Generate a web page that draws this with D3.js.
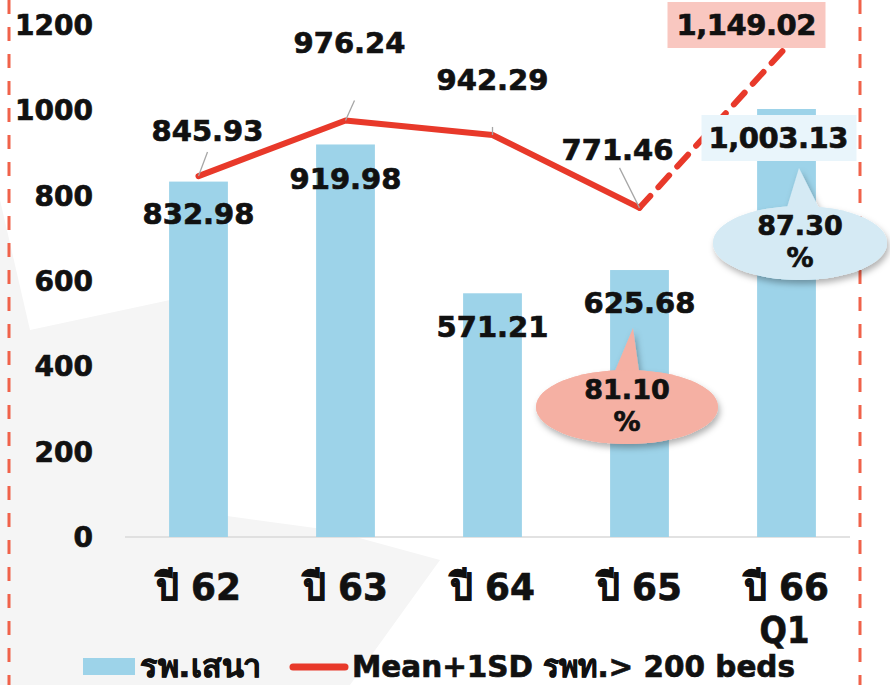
<!DOCTYPE html>
<html>
<head>
<meta charset="utf-8">
<script src="https://cdn.jsdelivr.net/npm/d3@7"></script>
<style>
  body { margin: 0; background: #fff; }
  svg text { font-family: "DejaVu Sans", Tahoma, sans-serif; font-weight: bold; fill: #111; stroke: #111; stroke-width: 0.7px; }
</style>
</head>
<body>
<svg width="890" height="685"></svg>
<script>
var categories = ["ปี 62", "ปี 63", "ปี 64", "ปี 65", "ปี 66\nQ1"];
var barValues = [832.98, 919.98, 571.21, 625.68, 1003.13];
var lineValues = [845.93, 976.24, 942.29, 771.46, 1149.02];
var barLabels = ["832.98", "919.98", "571.21", "625.68", "1,003.13"];
var lineLabels = ["845.93", "976.24", "942.29", "771.46", "1,149.02"];
var yTicks = [0, 200, 400, 600, 800, 1000, 1200];
var pctLabels = [{i: 3, text: ["81.10", "%"]}, {i: 4, text: ["87.30", "%"]}];
var legendLabels = ["รพ.เสนา", "Mean+1SD รพท.> 200 beds"];

var svg = d3.select("svg");

// faint background shape
svg.append("polygon").attr("points", "0,200 0,685 350,685 440,560 330,530 220,515 170,300 30,330")
  .style("fill", "#f5f5f5");

var x = d3.scaleBand().domain(d3.range(5)).range([125, 860]).paddingInner(0.6).paddingOuter(0.3);
var y = d3.scaleLinear().domain([0, 1200]).range([537, 25]);
var cx = function(i) { return x(i) + x.bandwidth() / 2; };

// red dashed frame lines
[9, 860].forEach(function(px) {
  svg.append("line").attr("x1", px).attr("x2", px).attr("y1", 0).attr("y2", 685)
    .style("stroke", "#f0624a").style("stroke-width", 3).style("stroke-dasharray", "14,13");
});

// y tick labels
svg.selectAll("text.ytick").data(yTicks).enter().append("text")
  .attr("class", "ytick")
  .attr("x", 93).attr("y", function(d) { return y(d); })
  .attr("dy", "0.36em").attr("text-anchor", "end")
  .style("font-size", "28px")
  .text(function(d) { return d; });

// baseline
svg.append("line").attr("x1", 125).attr("x2", 850).attr("y1", y(0)).attr("y2", y(0))
  .style("stroke", "#d9d9d9").style("stroke-width", 1.5);

// bars
svg.selectAll("rect.bar").data(barValues).enter().append("rect")
  .attr("class", "bar")
  .attr("x", function(d, i) { return x(i); })
  .attr("y", function(d) { return y(d); })
  .attr("width", x.bandwidth())
  .attr("height", function(d) { return y(0) - y(d); })
  .style("fill", "#9dd3e9");

// category labels
categories.forEach(function(c, i) {
  c.split("\n").forEach(function(s, k) {
    svg.append("text").attr("x", k ? cx(i) - 2 : cx(i)).attr("y", k ? 643 : 600)
      .attr("text-anchor", "middle").style("font-size", "38px")
      .attr("textLength", k ? 50 : 85).attr("lengthAdjust", "spacingAndGlyphs")
      .text(s);
  });
});

// line, solid part then dashed part
var line = d3.line().x(function(d, i) { return cx(i); }).y(function(d) { return y(d); });
svg.append("path").datum(lineValues.slice(0, 4)).attr("d", line)
  .style("fill", "none").style("stroke", "#e8392a").style("stroke-width", 6)
  .style("stroke-linejoin", "round").style("stroke-linecap", "round");
svg.append("path").datum([lineValues[3], lineValues[4]])
  .attr("d", d3.line().x(function(d, i) { return cx(i + 3); }).y(function(d) { return y(d); }))
  .style("fill", "none").style("stroke", "#e8392a").style("stroke-width", 6)
  .style("stroke-dasharray", "16,12").style("stroke-linecap", "round");

// leader lines for line labels
var leaders = [[9, -24], [9, -20], [0, -8], [-20, -40]];
leaders.forEach(function(l, i) {
  svg.append("line").attr("x1", cx(i)).attr("y1", y(lineValues[i]))
    .attr("x2", cx(i) + l[0]).attr("y2", y(lineValues[i]) + l[1])
    .style("stroke", "#a6a6a6").style("stroke-width", 1.3);
});

// line labels
var lineLabelPos = [[9, -46], [4, -78], [0, -55], [-22, -58]];
lineLabelPos.forEach(function(p, i) {
  svg.append("text").attr("x", cx(i) + p[0]).attr("y", y(lineValues[i]) + p[1])
    .attr("dy", "0.36em").attr("text-anchor", "middle").style("font-size", "29px")
    .text(lineLabels[i]);
});
// highlighted last line label
svg.append("rect").attr("x", cx(4) - 119).attr("y", 2).attr("width", 158).attr("height", 46).style("fill", "#f9c7c0");
svg.append("text").attr("x", cx(4) - 40).attr("y", 25).attr("dy", "0.36em")
  .attr("text-anchor", "middle").style("font-size", "29px").attr("textLength", 140).text(lineLabels[4]);

// bar labels
var barLabelPos = [[0, 32], [0, 34], [0, 33], [0, 33]];
barLabelPos.forEach(function(p, i) {
  svg.append("text").attr("x", cx(i) + p[0]).attr("y", y(barValues[i]) + p[1])
    .attr("dy", "0.36em").attr("text-anchor", "middle").style("font-size", "29px")
    .text(barLabels[i]);
});
svg.append("rect").attr("x", cx(4) - 85).attr("y", 115).attr("width", 155).attr("height", 46).style("fill", "#e9f5fb");
svg.append("text").attr("x", cx(4) - 8).attr("y", 138).attr("dy", "0.36em")
  .attr("text-anchor", "middle").style("font-size", "29px").attr("textLength", 140).text(barLabels[4]);

// callout bubbles
var defs = svg.append("defs");
var f = defs.append("filter").attr("id", "sh").attr("x", "-20%").attr("y", "-20%").attr("width", "140%").attr("height", "150%");
f.append("feDropShadow").attr("dx", 2).attr("dy", 4).attr("stdDeviation", 3).attr("flood-color", "#000").attr("flood-opacity", 0.3);

var bubbles = [
  {cx: 627, cy: 407, rx: 91, ry: 37, tip: [633, 328], base: [612, 640], fill: "#f5b0a3"},
  {cx: 800, cy: 243, rx: 87, ry: 37, tip: [799, 168], base: [785, 822], fill: "#d5eaf4"}
];
bubbles.forEach(function(b, k) {
  var g = svg.append("g").style("filter", "url(#sh)");
  g.append("ellipse").attr("cx", b.cx).attr("cy", b.cy).attr("rx", b.rx).attr("ry", b.ry).style("fill", b.fill);
  g.append("polygon").attr("points", [b.base[0] + "," + (b.cy - b.ry + 8), b.tip.join(","), b.base[1] + "," + (b.cy - b.ry + 8)].join(" "))
    .style("fill", b.fill);
  svg.append("ellipse").attr("cx", b.cx).attr("cy", b.cy).attr("rx", b.rx).attr("ry", b.ry).style("fill", b.fill);
  var t = svg.append("text").attr("x", b.cx).attr("y", b.cy - 8).attr("text-anchor", "middle").style("font-size", "27px");
  pctLabels[k].text.forEach(function(s, j) {
    t.append("tspan").attr("x", b.cx).attr("dy", j ? 32 : 0).text(s);
  });
});

// legend
svg.append("rect").attr("x", 83).attr("y", 658).attr("width", 52).attr("height", 17).style("fill", "#9dd3e9");
svg.append("text").attr("x", 140).attr("y", 677).style("font-size", "31px")
  .attr("textLength", 121).attr("lengthAdjust", "spacingAndGlyphs").text(legendLabels[0]);
svg.append("line").attr("x1", 293).attr("x2", 345).attr("y1", 667).attr("y2", 667)
  .style("stroke", "#e8392a").style("stroke-width", 7).style("stroke-linecap", "round");
svg.append("text").attr("x", 352).attr("y", 677).style("font-size", "31px")
  .attr("textLength", 443).attr("lengthAdjust", "spacingAndGlyphs").text(legendLabels[1]);
</script>
</body>
</html>
